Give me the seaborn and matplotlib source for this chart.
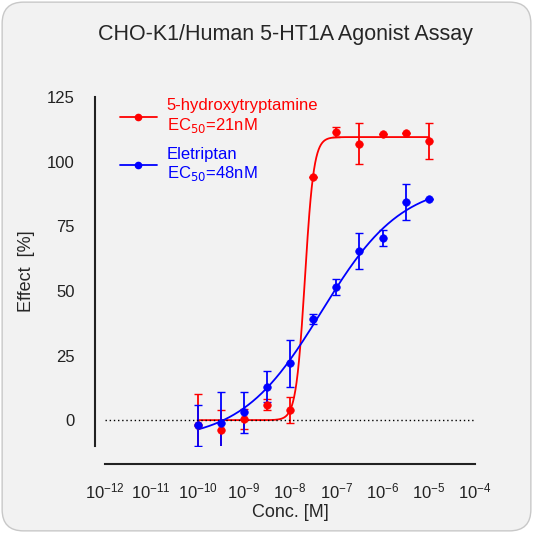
import numpy as np
import seaborn as sns
import matplotlib.pyplot as plt
from matplotlib.patches import FancyBboxPatch
from matplotlib.ticker import LogLocator, NullFormatter

# Data
conc = [1e-10, 3.16e-10, 1e-9, 3.16e-9, 1e-8, 3.16e-8, 1e-7, 3.16e-7, 1e-6, 3.16e-6, 1e-5]
ht_mean = [-2, -4, 0.5, 6, 4, 94, 111.5, 107, 110.5, 111, 108]
ht_err = [12, 8, 4, 2, 5, 0, 2, 8, 0, 0, 7]
ele_mean = [-2, -1, 3, 13, 22, 39, 51.5, 65.5, 70.5, 84.5, 85.5]
ele_err = [8, 12, 8, 6, 9, 2, 3, 7, 3, 7, 0]

# 4PL fit parameters (bottom, top, EC50, hill)
ht_fit = (0, 109.5, 21e-9, 4.5)
ele_fit = (-8, 92, 48e-9, 0.5)

sns.set_style("white")
plt.rcParams["font.family"] = ["Liberation Sans", "DejaVu Sans"]

fig = plt.figure(figsize=(5.33, 5.33), dpi=100)
fig.patch.set_facecolor("white")
bg = FancyBboxPatch((0.004, 0.004), 0.992, 0.992, boxstyle="round,pad=0,rounding_size=0.04",
                    transform=fig.transFigure, facecolor="#f2f2f2", edgecolor="#c8c8c8", lw=1,
                    zorder=-10)
fig.patches.append(bg)

ax = fig.add_axes([105 / 533, 1 - 446 / 533, 370 / 533, 349 / 533])
ax.set_facecolor("none")


def four_pl(x, bottom, top, ec50, hill):
    return bottom + (top - bottom) / (1 + (ec50 / x) ** hill)


xs = np.logspace(-10, -5, 400)
for mean, err, fit, color, label in [
    (ht_mean, ht_err, ht_fit, "#ff0000", "5-hydroxytryptamine\nEC$_{50}$=21nM"),
    (ele_mean, ele_err, ele_fit, "#0000ff", "Eletriptan\nEC$_{50}$=48nM"),
]:
    sns.lineplot(x=xs, y=four_pl(xs, *fit), color=color, lw=1.3, ax=ax)
    ax.errorbar(conc, mean, yerr=err, fmt="none", ecolor=color, elinewidth=1.3, capsize=3)
    ax.plot([], [], color=color, marker="o", ms=4.5, lw=1.3, label=label)
    sns.scatterplot(x=conc, y=mean, color=color, s=30, edgecolor=color, ax=ax, zorder=3)

ax.axhline(0, color="black", ls=(0, (1, 2)), lw=1)

ax.set_xscale("log")
ax.set_xlim(1e-12, 1e-4)
ax.set_ylim(-10, 125)
ax.set_yticks([0, 25, 50, 75, 100, 125])
ax.xaxis.set_major_locator(LogLocator(base=10, numticks=20))
ax.xaxis.set_minor_locator(LogLocator(base=10, subs=np.arange(2, 10), numticks=100))
ax.xaxis.set_minor_formatter(NullFormatter())

for s in ["top", "right"]:
    ax.spines[s].set_visible(False)
ax.spines["bottom"].set_position(("outward", 13))
ax.spines["left"].set_position(("outward", 7))
for s in ["bottom", "left"]:
    ax.spines[s].set_linewidth(1.5)
    ax.spines[s].set_color("#222222")
ax.tick_params(axis="both", which="major", length=9, width=1.5, labelsize=12, colors="#222222")
ax.tick_params(axis="x", which="minor", length=5, width=1.2, colors="#222222")
ax.tick_params(axis="y", pad=6)

ax.set_xlabel("Conc. [M]", fontsize=13, labelpad=2)
ax.set_ylabel("Effect  [%]", fontsize=13, labelpad=8)

leg = ax.legend(loc="upper left", bbox_to_anchor=(0.0, 1.04), frameon=False, fontsize=12,
                handlelength=2.2, labelspacing=0.7, handletextpad=0.6)
for text, c in zip(leg.get_texts(), ["#ff0000", "#0000ff"]):
    text.set_color(c)

fig.text(0.535, 0.935, "CHO-K1/Human 5-HT1A Agonist Assay", ha="center", va="center", fontsize=15.5)

fig.savefig("out.png", dpi=100)
